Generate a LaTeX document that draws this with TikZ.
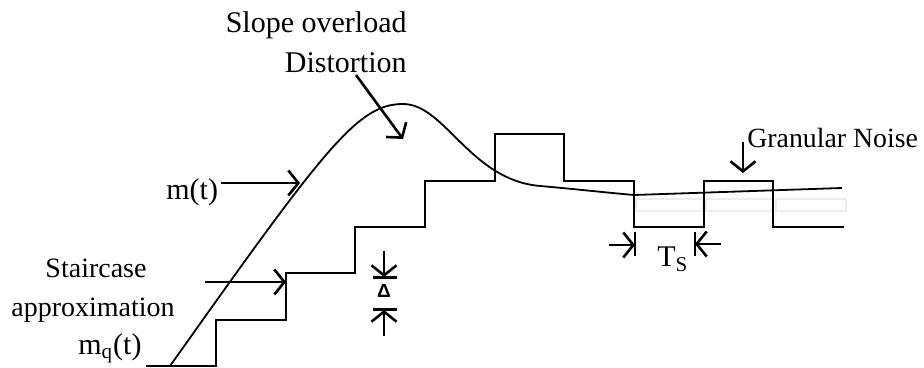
\documentclass[tikz,border=0pt]{standalone}
\usepackage{fontspec}
\setmainfont{Liberation Serif}
\newfontfamily\deltafont{Liberation Sans}
\usetikzlibrary{arrows.meta}
\begin{document}
\begin{tikzpicture}[x=0.5pt,y=-0.5pt,
  lbl/.style={inner sep=0pt, font=\fontsize{15}{18}\selectfont},
  sig/.style={line width=0.9pt, line join=miter},
  ptr/.style={line width=1.3pt, -{Straight Barb[length=5pt,width=12.5pt,line width=1.3pt]}},
  barline/.style={line width=1.3pt},
  ghost/.style={draw=black!7, line width=1.2pt}]
\useasboundingbox (0,0) rectangle (924,368);

% faint sample boxes under the flat part of the signal
\draw[ghost] (636,199) rectangle (703,211);
\draw[ghost] (706,199) rectangle (773,211);
\draw[ghost] (776,199) rectangle (846,211);

% staircase approximation m_q(t)
\draw[sig] (146,366) -- (216,366) -- (216,320) -- (286,320) -- (286,273)
  -- (355,273) -- (355,227) -- (425,227) -- (425,181) -- (495,181)
  -- (495,134) -- (564,134) -- (564,181) -- (634,181) -- (634,227)
  -- (704,227) -- (704,181) -- (773,181) -- (773,227) -- (844,227);

% message signal m(t)
\draw[sig] (170,366) .. controls (326,146) and (358,104) .. (403,104)
  .. controls (445,104) and (470,180) .. (540,186)
  .. controls (575,189) and (600,192) .. (634,195)
  -- (842,188);

% labels
\node[lbl, anchor=base east] (slope) at (407,33) {Slope overload};
\node[lbl, anchor=base east] (distortion) at (407,73) {Distortion};
\node[lbl, anchor=base west] (mt) at (166,200) {m(t)};
\node[lbl, anchor=base, font=\fontsize{14}{17}\selectfont] (stair) at (96,278) {Staircase};
\node[lbl, anchor=base, font=\fontsize{14}{17}\selectfont] (approx) at (93,316) {approximation};
\node[lbl, anchor=base west] (mq) at (78,354) {m\textsubscript{q}(t)};
\node[lbl, anchor=base west] (ts) at (657,267) {T\textsubscript{S}};
\node[lbl, anchor=base west, font=\fontsize{13.9}{17}\selectfont] (granular) at (747,148) {Granular Noise};
\node[inner sep=0pt, font=\deltafont\bfseries\fontsize{9.5}{10}\selectfont] (delta) at (384,291) {Δ};

% pointer arrows
\coordinate (soTail) at (356,75);
\coordinate (soTip) at (403,139);
\draw[ptr] (soTail) -- (soTip);

\coordinate (mtTail) at (221,183);
\coordinate (mtTip) at (300,183);
\draw[ptr] (mtTail) -- (mtTip);

\coordinate (stTail) at (205,282);
\coordinate (stTip) at (286,282);
\draw[ptr] (stTail) -- (stTip);

\coordinate (gnTail) at (743,142);
\coordinate (gnTip) at (743,173);
\draw[ptr] (gnTail) -- (gnTip);

% step size marker
\coordinate (dTopTail) at (384,251);
\coordinate (dTopTip) at (384,277);
\coordinate (dBotTail) at (384,336);
\coordinate (dBotTip) at (384,310);
\draw[ptr] (dTopTail) -- (dTopTip);
\draw[barline] (373,277.5) -- (397,277.5);
\draw[ptr] (dBotTail) -- (dBotTip);
\draw[barline] (373,309.5) -- (397,309.5);

% sampling period marker
\coordinate (tsLTail) at (609,245);
\coordinate (tsLTip) at (635,245);
\coordinate (tsRTail) at (721,244);
\coordinate (tsRTip) at (695,244);
\draw[ptr] (tsLTail) -- (tsLTip);
\draw[barline] (635,232) -- (635,256);
\draw[ptr] (tsRTail) -- (tsRTip);
\draw[barline] (695,232) -- (695,256);
\end{tikzpicture}
\end{document}
